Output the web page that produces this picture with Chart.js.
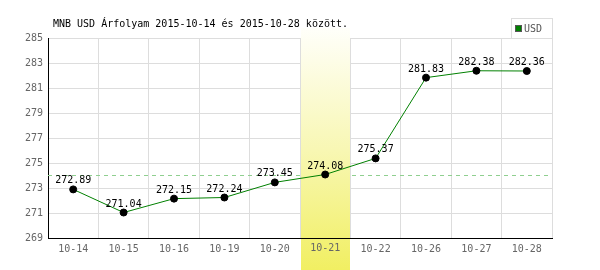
<!DOCTYPE html>
<html>
<head>
<meta charset="utf-8">
<script src="https://cdn.jsdelivr.net/npm/chart.js@4/dist/chart.umd.min.js"></script>
<style>
html,body{margin:0;padding:0;background:#fff;}
#wrap{width:600px;height:270px;}
</style>
</head>
<body>
<div id="wrap"><canvas id="c" width="600" height="270"></canvas></div>
<script>
const categories = ['10-14','10-15','10-16','10-19','10-20','10-21','10-22','10-26','10-27','10-28'];
const usdValues = [272.89, 271.04, 272.15, 272.24, 273.45, 274.08, 275.37, 281.83, 282.38, 282.36];
const yTicks = [269, 271, 273, 275, 277, 279, 281, 283, 285];
const titleText = 'MNB USD Árfolyam 2015-10-14 és 2015-10-28 között.';
const seriesName = 'USD';
const highlightIndex = 5;

const MONO = '"DejaVu Sans Mono", "Liberation Mono", monospace';

const decor = {
  id: 'decor',
  beforeDatasetsDraw(chart) {
    const {ctx, chartArea: a, scales: {x, y}} = chart;
    // dashed reference line at highlighted value
    const ry = Math.round(y.getPixelForValue(usdValues[highlightIndex])) + 0.5;
    ctx.save();
    ctx.strokeStyle = '#8fcf8f';
    ctx.lineWidth = 1;
    ctx.setLineDash([4, 4]);
    ctx.beginPath();
    ctx.moveTo(a.left, ry);
    ctx.lineTo(a.right, ry);
    ctx.stroke();
    ctx.setLineDash([]);
    // highlight band
    const cx = x.getPixelForValue(highlightIndex);
    const half = (x.getPixelForValue(1) - x.getPixelForValue(0)) / 2;
    const x0 = Math.round(cx - half) + 1, x1 = Math.round(cx + half);
    const g = ctx.createLinearGradient(0, 28, 0, 270);
    g.addColorStop(0, '#fffffa');
    g.addColorStop(0.5, '#f8f7b4');
    g.addColorStop(1, '#f1ef62');
    ctx.fillStyle = g;
    ctx.fillRect(x0, 28, x1 - x0, 270 - 28);
    // redraw bottom axis line
    ctx.strokeStyle = '#000';
    ctx.beginPath();
    ctx.moveTo(a.left, Math.round(a.bottom) + 0.5);
    ctx.lineTo(a.right, Math.round(a.bottom) + 0.5);
    ctx.stroke();
    // redraw the tick label covered by the band
    ctx.font = '10px ' + MONO;
    ctx.fillStyle = '#666';
    ctx.textAlign = 'center';
    ctx.textBaseline = 'middle';
    ctx.fillText(categories[highlightIndex], cx, a.bottom + 10.5);
    ctx.restore();
  },
  afterDatasetsDraw(chart) {
    const {ctx} = chart;
    const meta = chart.getDatasetMeta(0);
    ctx.save();
    ctx.font = '10px ' + MONO;
    ctx.fillStyle = '#000';
    ctx.textAlign = 'center';
    ctx.textBaseline = 'alphabetic';
    meta.data.forEach((pt, i) => {
      ctx.fillText(usdValues[i].toFixed(2), pt.x, pt.y - 6);
    });
    ctx.restore();
  },
  afterDraw(chart) {
    const {ctx} = chart;
    ctx.save();
    ctx.font = '10px ' + MONO;
    ctx.fillStyle = '#000';
    ctx.textAlign = 'left';
    ctx.textBaseline = 'alphabetic';
    ctx.fillText(titleText, 53, 26.5);
    // legend box
    ctx.fillStyle = '#fff';
    ctx.fillRect(511, 18, 41, 20);
    ctx.strokeStyle = '#dddddd';
    ctx.lineWidth = 1;
    ctx.strokeRect(511.5, 18.5, 41, 20);
    ctx.fillStyle = '#008000';
    ctx.fillRect(515, 25, 7, 7);
    ctx.strokeStyle = '#555';
    ctx.strokeRect(515.5, 25.5, 6, 6);
    ctx.fillStyle = '#555';
    ctx.font = '10px ' + MONO;
    ctx.fillText(seriesName, 524, 32);
    ctx.restore();
  }
};

new Chart(document.getElementById('c'), {
  type: 'line',
  data: {
    labels: categories,
    datasets: [{
      label: seriesName,
      data: usdValues,
      borderColor: '#008000',
      borderWidth: 1,
      pointRadius: 3.5,
      pointHoverRadius: 3.5,
      pointBackgroundColor: '#000',
      pointBorderColor: '#000',
      tension: 0,
      fill: false
    }]
  },
  options: {
    responsive: false,
    animation: false,
    devicePixelRatio: 1,
    layout: {padding: {left: 0, right: 48, top: 38, bottom: 0}},
    plugins: {legend: {display: false}, title: {display: false}, tooltip: {enabled: false}},
    scales: {
      x: {
        offset: true,
        grid: {offset: true, color: '#dddddd', drawTicks: false},
        border: {color: '#000', width: 1},
        ticks: {color: '#666', font: {family: MONO, size: 10}, padding: 5, maxRotation: 0},
        afterFit(s) { s.height = 32; }
      },
      y: {
        min: 269, max: 285,
        grid: {color: '#dddddd', drawTicks: false},
        border: {color: '#000', width: 1},
        afterBuildTicks(s) { s.ticks = yTicks.map(v => ({value: v})); },
        ticks: {color: '#666', font: {family: MONO, size: 10}, padding: 5},
        afterFit(s) { s.width = 48; }
      }
    }
  },
  plugins: [decor]
});
</script>
</body>
</html>
